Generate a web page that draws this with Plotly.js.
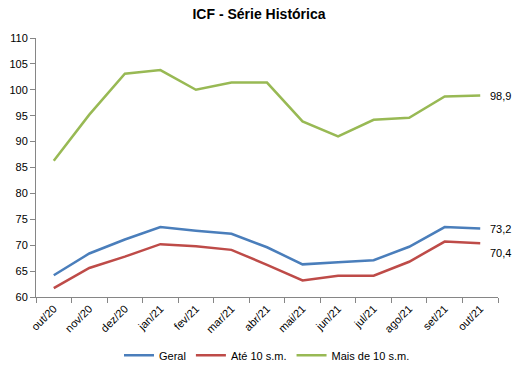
<!DOCTYPE html>
<html>
<head>
<meta charset="utf-8">
<script src="https://cdn.plot.ly/plotly-3.0.1.min.js"></script>
<style>html,body{margin:0;padding:0;background:#fff;}#chart{width:518px;height:371px;}</style>
</head>
<body>
<div id="chart"></div>
<script>
const categories = ["out/20","nov/20","dez/20","jan/21","fev/21","mar/21","abr/21","mai/21","jun/21","jul/21","ago/21","set/21","out/21"];
const geral = [64.2, 68.4, 71.1, 73.5, 72.8, 72.2, 69.6, 66.3, 66.7, 67.1, 69.7, 73.5, 73.2];
const ate10 = [61.7, 65.6, 67.8, 70.2, 69.8, 69.1, 66.2, 63.2, 64.1, 64.1, 66.8, 70.7, 70.4];
const mais10 = [86.3, 95.2, 103.1, 103.8, 100.0, 101.4, 101.4, 93.9, 91.0, 94.2, 94.6, 98.7, 98.9];
const seriesNames = ["Geral", "Até 10 s.m.", "Mais de 10 s.m."];
const colors = ["#4A7EBB", "#BE4B48", "#98B954"];
const yTicks = [60,65,70,75,80,85,90,95,100,105,110];

const font = "Liberation Sans, Arial, sans-serif";
const data = [geral, ate10, mais10].map((vals, i) => ({
  x: categories, y: vals, name: seriesNames[i], type: "scatter", mode: "lines",
  line: {color: colors[i], width: 2.5}
}));

const last = categories.length - 1;
const annotations = [geral, ate10, mais10].map((vals, i) => ({
  x: categories[last], y: vals[last], xref: "x", yref: "y",
  text: vals[last].toFixed(1).replace(".", ","), showarrow: false,
  xanchor: "left", xshift: 8, yshift: i === 1 ? -10 : 0,
  font: {family: font, size: 11, color: "#000"}
}));

const layout = {
  width: 518, height: 371,
  margin: {l: 36, r: 20, t: 38, b: 74, autoexpand: false},
  paper_bgcolor: "#fff", plot_bgcolor: "#fff",
  title: {text: "<b>ICF - Série Histórica</b>", font: {family: font, size: 14, color: "#000"}, x: 0.5, xanchor: "center", y: 0.962, yanchor: "middle"},
  xaxis: {
    type: "category", range: [-0.5, 12.5], tickangle: -45, automargin: false,
    showline: true, linecolor: "#868686", linewidth: 1,
    ticks: "outside", tickson: "boundaries", ticklen: 5, tickcolor: "#868686",
    showgrid: false, zeroline: false,
    tickfont: {family: font, size: 11, color: "#000"}
  },
  yaxis: {
    range: [60, 110], tickvals: yTicks, ticktext: yTicks.map(String), automargin: false,
    showline: true, linecolor: "#868686", linewidth: 1,
    ticks: "outside", ticklen: 5, tickcolor: "#868686",
    showgrid: false, zeroline: false,
    tickfont: {family: font, size: 11, color: "#000"}
  },
  legend: {orientation: "h", x: 0.5, xanchor: "center", y: -0.225, yanchor: "middle",
    font: {family: font, size: 11, color: "#000"}},
  showlegend: true,
  annotations: annotations
};
Plotly.newPlot("chart", data, layout, {displayModeBar: false, staticPlot: true});
</script>
</body>
</html>
